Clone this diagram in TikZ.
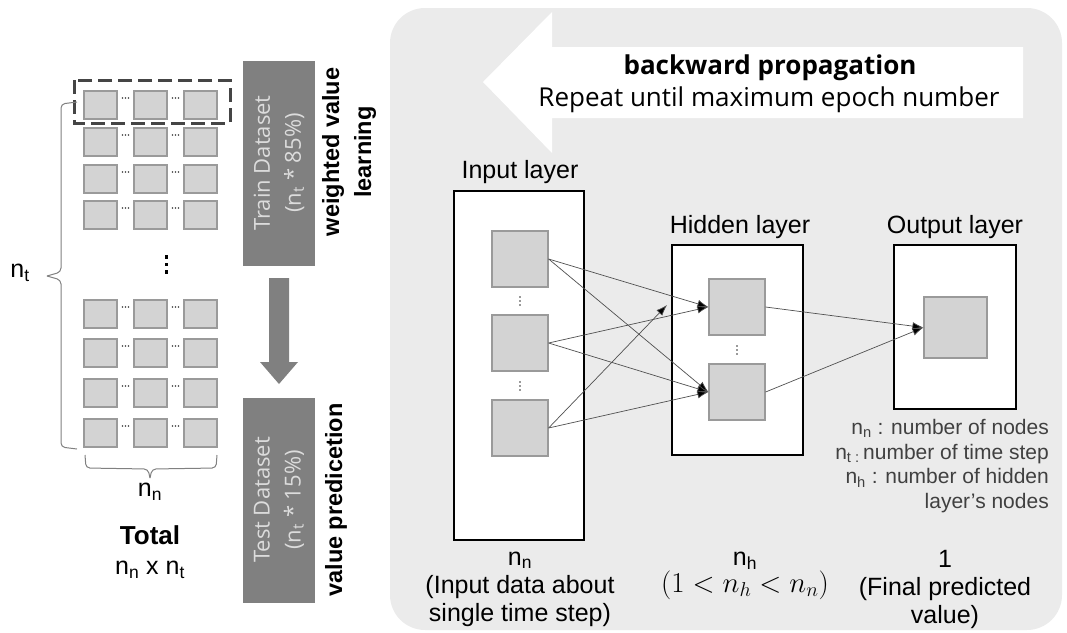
\documentclass[tikz,border=0pt]{standalone}
\usepackage{fontspec}
\setmainfont{Liberation Sans}
\newfontfamily\osans{Open Sans}
\usetikzlibrary{arrows.meta}
\definecolor{panelc}{HTML}{EBEBEB}
\definecolor{cellc}{HTML}{D3D3D3}
\definecolor{cellb}{HTML}{9A9A9A}
\definecolor{dsbox}{HTML}{808080}
\definecolor{dstext}{HTML}{DCDCDC}
\definecolor{legc}{HTML}{404040}
\definecolor{connc}{HTML}{505050}
\definecolor{dashc}{HTML}{454545}
\newcommand{\fsz}[1]{\fontsize{#1}{#1}\selectfont}
\newcommand{\fszl}[2]{\fontsize{#1}{#2}\selectfont}
\begin{document}
\begin{tikzpicture}[x=1pt,y=-1pt,
  gcell/.style={draw=cellb,fill=cellc,line width=1.3pt,minimum width=33pt,minimum height=28pt,inner sep=0pt},
  ncell/.style={draw=cellb,fill=cellc,line width=1.2pt,minimum width=56pt,minimum height=56pt,inner sep=0pt},
  layerbox/.style={draw=black,fill=white,line width=1.6pt},
  dsnode/.style={fill=dsbox,text=dstext,rotate=90,minimum width=205pt,minimum height=72pt,inner sep=0pt,align=center,font=\osans\fszl{22}{31}},
  boldlab/.style={rotate=90,align=center,font=\bfseries\fszl{23.5}{32}},
  laylab/.style={font=\fsz{25}},
  conn/.style={draw=connc,line width=0.7pt,-{Latex[length=11pt,width=8pt,fill=black]}},
]
\useasboundingbox (0,0) rectangle (1067,632);
% ---------- left grid ----------
\foreach \r/\yc in {1/105,2/142,3/179,4/215,5/314,6/353,7/393,8/433}{
  \foreach \c/\xc in {1/100.5,2/150.5,3/200.5}{
    \node[gcell] (g-\r-\c) at (\xc,\yc) {};
  }
  \foreach \xd in {125.5,175.5}{
    \foreach \dd in {-3,0,3}{
      \fill[black!75] (\xd+\dd,\yc-7) circle (0.8pt);
    }
  }
}
\foreach \yd in {257,264.5,272}{
  \fill[black] (164.5,\yd-1.7) rectangle (167.8,\yd+1.7);
}
\draw[dashc,line width=3pt,dash pattern=on 14pt off 6pt] (74,80) rectangle (230,123);
% left brace
\draw[black!50,line width=1pt,rounded corners=4pt] (77,102) -- (61,104) -- (61,272) -- (47,276);
\draw[black!50,line width=1pt,rounded corners=4pt] (47,276) -- (61,280) -- (61,447) -- (77,449);
\node[font=\fsz{25}] (nt) at (20,273) {n\textsubscript{t}};
% bottom brace
\draw[black!50,line width=1pt,rounded corners=4pt] (85,455) -- (86,468) -- (148,469) -- (150,478);
\draw[black!50,line width=1pt,rounded corners=4pt] (150,478) -- (152,469) -- (216,468) -- (217,455);
\node[font=\fsz{25}] (nn) at (150,492) {n\textsubscript{n}};
\node[font=\bfseries\fsz{26}] (total) at (150,535) {Total};
\node[font=\fsz{25}] (tot2) at (150,570) {n\textsubscript{n} x n\textsubscript{t}};
% ---------- datasets ----------
\node[dsnode] (train) at (279,163) {Train Dataset\\(n\textsubscript{t} * 85\%)};
\node[dsnode] (test) at (279,500) {Test Dataset\\(n\textsubscript{t} * 15\%)};
\node[boldlab] (wvl) at (349,152) {weighted value\\learning};
\node[boldlab] (vp) at (336,500) {value predicetion};
\fill[dsbox] (269,278) -- (289,278) -- (289,362) -- (298,362) -- (279,384) -- (260,362) -- (269,362) -- cycle;
% ---------- right panel ----------
\fill[panelc,rounded corners=35pt] (390,8) rectangle (1062,630);
\fill[white] (1023,47) -- (552,47) -- (552,12) -- (483,82) -- (552,153) -- (552,118) -- (1023,118) -- cycle;
\node[font=\osans\bfseries\fsz{26}] (bp) at (770,68) {backward propagation};
\node[font=\osans\fsz{26}] (rep) at (769,100) {Repeat until maximum epoch number};
% layer boxes
\draw[layerbox] (454,191) rectangle (584,540);
\draw[layerbox] (672,245) rectangle (803,455);
\draw[layerbox] (894,245) rectangle (1016,409);
\node[laylab] (linput) at (520,172) {Input layer};
\node[laylab] (lhidden) at (740,227) {Hidden layer};
\node[laylab] (loutput) at (955,227) {Output layer};
% neurons
\node[ncell] (i1) at (520,259) {};
\node[ncell] (i2) at (520,343) {};
\node[ncell] (i3) at (520,428) {};
\node[ncell] (h1) at (737,307) {};
\node[ncell] (h2) at (737,392) {};
\node[ncell,minimum width=63pt,minimum height=61pt] (o1) at (955.5,327.5) {};
\foreach \px/\py in {520/301,520/386,737/350}{
  \foreach \dd in {-4,0,4}{
    \fill[black!80] (\px,\py+\dd) circle (0.8pt);
  }
}
\coordinate (free) at (667,305);
\draw[conn] (i1.east) -- (h1.west);
\draw[conn] (i1.east) -- (h2.west);
\draw[conn] (i2.east) -- (h1.west);
\draw[conn] (i2.east) -- (h2.west);
\draw[conn] (i3.east) -- (h2.west);
\draw[conn] (i3.east) -- (free);
\draw[conn] (h1.east) -- (o1.west);
\draw[conn] (h2.east) -- (o1.west);
% legend
\node[anchor=north east,align=right,text=legc,font=\fszl{21}{24.7},inner sep=0pt] (legend) at (1049,419)
  {n\textsubscript{n} : number of nodes\\n\textsubscript{t :}\,number of time step\\n\textsubscript{h} : number of hidden\\layer’s nodes};
% bottom labels
\node[align=center,font=\fszl{25}{28}] (binp) at (520,589) {n\textsubscript{n}\\(Input data about\\single time step)};
\node[align=center,font=\fszl{25}{27}] (bhid) at (745,576) {n\textsubscript{h}\\\scalebox{1.16}{$(1<n_h<n_n)$}};
\node[align=center,font=\fszl{25}{28}] (bout) at (945,589) {1\\(Final predicted\\value)};
\end{tikzpicture}
\end{document}
